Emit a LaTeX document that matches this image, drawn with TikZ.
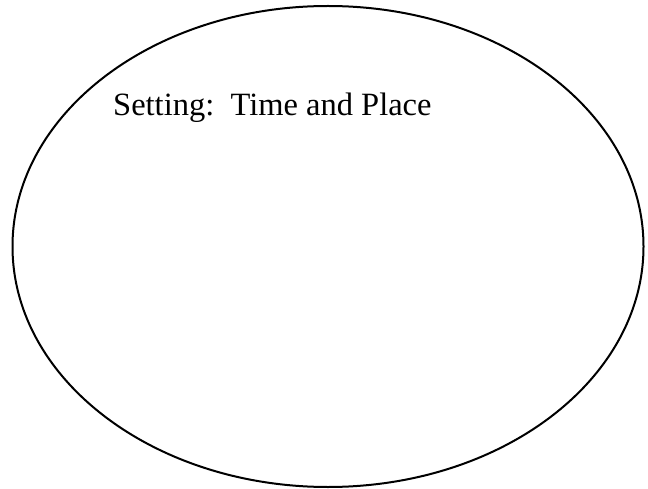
\documentclass[tikz,border=0pt]{standalone}
\usepackage{fontspec}
\setmainfont{Liberation Serif}
\usepackage{tikz}

\begin{document}
\begin{tikzpicture}[x=1pt,y=-1pt,font=\fontsize{32.5}{39}\selectfont]
  \useasboundingbox (0,0) rectangle (648,489);
  % outline of the story setting
  \draw[line width=2pt] (328,246.5) ellipse (315.5 and 240.5);
  \node[anchor=base west,inner sep=0pt] (setting) at (113,116) {Setting:\ \ Time and Place};
\end{tikzpicture}
\end{document}
